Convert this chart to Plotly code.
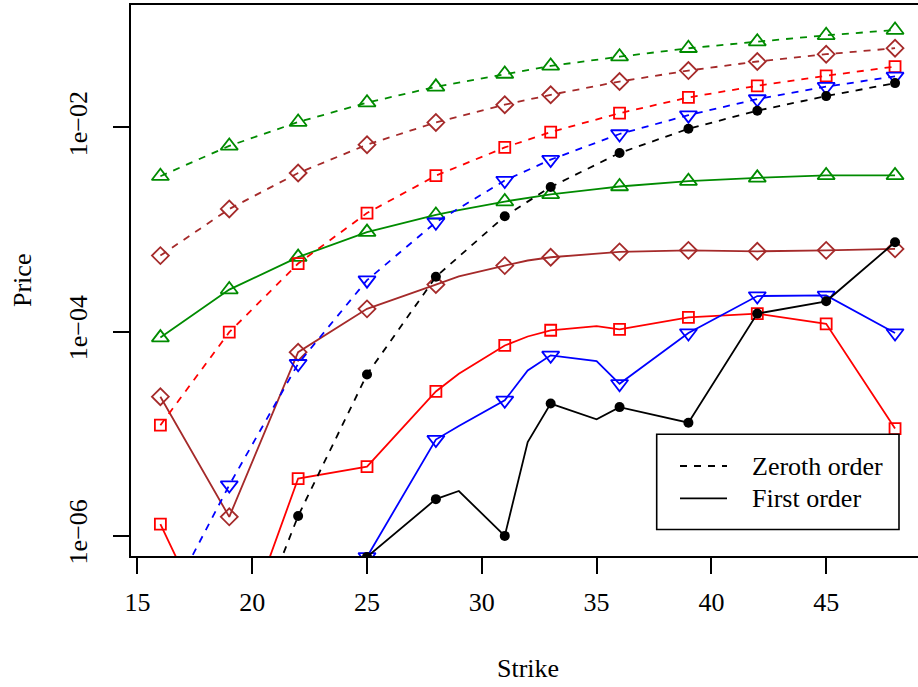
import plotly.graph_objects as go

# ---------------- data ----------------
strikes_zero = [16, 19, 22, 25, 28, 31, 33, 36, 39, 42, 45, 48]
strikes_first = [16, 19, 22, 25, 28, 29, 31, 32, 33, 35, 36, 39, 42, 45, 48]
marked_strikes = [16, 19, 22, 25, 28, 31, 33, 36, 39, 42, 45, 48]

# Zeroth order (dashed)
green_zero = [3.33e-3, 6.60e-3, 1.13e-2, 1.75e-2, 2.50e-2, 3.34e-2, 4.01e-2, 4.94e-2, 5.97e-2, 6.93e-2, 8.00e-2, 9.01e-2]
brown_zero = [5.55e-4, 1.59e-3, 3.58e-3, 6.78e-3, 1.12e-2, 1.67e-2, 2.09e-2, 2.82e-2, 3.61e-2, 4.43e-2, 5.22e-2, 5.98e-2]
red_zero = [1.21e-5, 9.86e-5, 4.64e-4, 1.45e-3, 3.37e-3, 6.37e-3, 9.02e-3, 1.38e-2, 1.97e-2, 2.56e-2, 3.21e-2, 3.95e-2]
blue_zero = [1.6e-7, 3.13e-6, 4.84e-5, 3.19e-4, 1.18e-3, 3.02e-3, 4.84e-3, 8.63e-3, 1.32e-2, 1.90e-2, 2.51e-2, 3.17e-2]
black_zero = [3e-10, 3e-8, 1.56e-6, 3.80e-5, 3.44e-4, 1.35e-3, 2.61e-3, 5.62e-3, 9.71e-3, 1.46e-2, 2.03e-2, 2.72e-2]

# First order (solid)
green_first = [8.73e-5, 2.58e-4, 5.37e-4, 9.44e-4, 1.39e-3, 1.55e-3, 1.88e-3, 2.04e-3, 2.21e-3, 2.49e-3, 2.64e-3, 2.98e-3, 3.21e-3, 3.39e-3, 3.39e-3]
brown_first = [2.30e-5, 1.53e-6, 6.28e-5, 1.67e-4, 2.89e-4, 3.48e-4, 4.43e-4, 4.97e-4, 5.35e-4, 5.81e-4, 6.04e-4, 6.25e-4, 6.12e-4, 6.25e-4, 6.46e-4]
red_first = [1.30e-6, 4.9e-8, 3.63e-6, 4.75e-6, 2.59e-5, 3.86e-5, 7.31e-5, 8.95e-5, 1.03e-4, 1.13e-4, 1.05e-4, 1.38e-4, 1.50e-4, 1.19e-4, 1.12e-5]
blue_first = [1e-8, 1e-8, 1e-8, 6.2e-7, 8.74e-6, 1.19e-5, 2.12e-5, 4.16e-5, 5.85e-5, 5.13e-5, 3.08e-5, 9.67e-5, 2.23e-4, 2.26e-4, 9.67e-5]
black_first = [1e-8, 1e-8, 1e-8, 6.2e-7, 2.28e-6, 2.74e-6, 9.95e-7, 8.28e-6, 1.97e-5, 1.38e-5, 1.82e-5, 1.28e-5, 1.50e-4, 1.98e-4, 7.50e-4]

x_ticks = [15, 20, 25, 30, 35, 40, 45]
y_ticks = [1e-6, 1e-4, 1e-2]
y_ticktext = ["1e\u221206", "1e\u221204", "1e\u221202"]
legend_labels = ["Zeroth order", "First order"]

# ---------------- style ----------------
FONT = "Liberation Serif"
FS = 26
LW = 1.8
MLW = 1.8
DASH = "7px,7px"
W, H = 918, 687
ML, MR, MT, MB = 131, 0, 5, 131
PW, PH = W - ML - MR, H - MT - MB

series = [
    ("green", "#008B00", "triangle-up-open", 15, green_zero, green_first),
    ("brown", "#A52A2A", "diamond-open", 13, brown_zero, brown_first),
    ("red", "#FF0000", "square-open", 11, red_zero, red_first),
    ("blue", "#0000FF", "triangle-down-open", 15, blue_zero, blue_first),
    ("black", "#000000", "circle", 10, black_zero, black_first),
]

fig = go.Figure()
for name, col, sym, sz, zero, first in series:
    mline = dict(color=col, width=MLW if sym != "circle" else 0)
    fig.add_trace(go.Scatter(x=strikes_zero, y=zero, mode="lines+markers",
                             line=dict(color=col, width=LW, dash=DASH),
                             marker=dict(symbol=sym, size=sz, color=col, line=mline),
                             showlegend=False))
    fig.add_trace(go.Scatter(x=strikes_first, y=first, mode="lines",
                             line=dict(color=col, width=LW),
                             showlegend=False))
    mx = [s for s in strikes_first if s in marked_strikes]
    my = [v for s, v in zip(strikes_first, first) if s in marked_strikes]
    fig.add_trace(go.Scatter(x=mx, y=my, mode="markers",
                             marker=dict(symbol=sym, size=sz, color=col, line=mline),
                             showlegend=False))


def px2x(p):
    return (p - ML) / PW


def px2y(p):
    return (H - MB - p) / PH


shapes = [
    dict(type="rect", xref="paper", yref="paper",
         x0=px2x(656.7), x1=px2x(899), y0=px2y(529.5), y1=px2y(434.3),
         line=dict(color="black", width=1.6), fillcolor="white", layer="above"),
    dict(type="line", xref="paper", yref="paper",
         x0=px2x(680), x1=px2x(727), y0=px2y(466), y1=px2y(466),
         line=dict(color="black", width=LW, dash=DASH), layer="above"),
    dict(type="line", xref="paper", yref="paper",
         x0=px2x(680), x1=px2x(727), y0=px2y(498.3), y1=px2y(498.3),
         line=dict(color="black", width=LW), layer="above"),
]

annotations = [
    dict(text=legend_labels[0], xref="paper", yref="paper", x=px2x(750), y=px2y(466),
         xanchor="left", yanchor="middle", showarrow=False, font=dict(family=FONT, size=26, color="black")),
    dict(text=legend_labels[1], xref="paper", yref="paper", x=px2x(750), y=px2y(498.3),
         xanchor="left", yanchor="middle", showarrow=False, font=dict(family=FONT, size=26, color="black")),
    dict(text="Strike", xref="paper", yref="paper", x=px2x(528), y=px2y(668),
         xanchor="center", yanchor="middle", showarrow=False, font=dict(family=FONT, size=FS, color="black")),
    dict(text="Price", xref="paper", yref="paper", x=px2x(22), y=px2y(281),
         xanchor="center", yanchor="middle", textangle=-90, showarrow=False,
         font=dict(family=FONT, size=FS, color="black")),
]

fig.update_layout(
    width=W, height=H, autosize=False,
    margin=dict(l=ML, r=MR, t=MT, b=MB, pad=0),
    paper_bgcolor="white", plot_bgcolor="white",
    font=dict(family=FONT, size=FS, color="black"),
    shapes=shapes, annotations=annotations, showlegend=False,
    xaxis=dict(range=[14.72, 49.0], tickmode="array", tickvals=x_ticks,
               ticks="outside", ticklen=16, tickwidth=1.5, tickcolor="black",
               showline=True, linecolor="black", linewidth=1.6, mirror=True,
               showgrid=False, zeroline=False, ticklabelstandoff=6,
               tickfont=dict(family=FONT, size=FS, color="black")),
    yaxis=dict(type="log", range=[-6.199, -0.80], tickmode="array",
               tickvals=y_ticks, ticktext=y_ticktext, tickangle=-90,
               ticks="outside", ticklen=16, tickwidth=1.5, tickcolor="black",
               showline=True, linecolor="black", linewidth=1.6, mirror=False,
               showgrid=False, zeroline=False, ticklabelstandoff=16,
               tickfont=dict(family=FONT, size=FS, color="black")),
)

fig.write_html("out.html", config={"displayModeBar": False},
               post_script="document.body.style.margin='0';document.body.style.overflow='hidden';")
